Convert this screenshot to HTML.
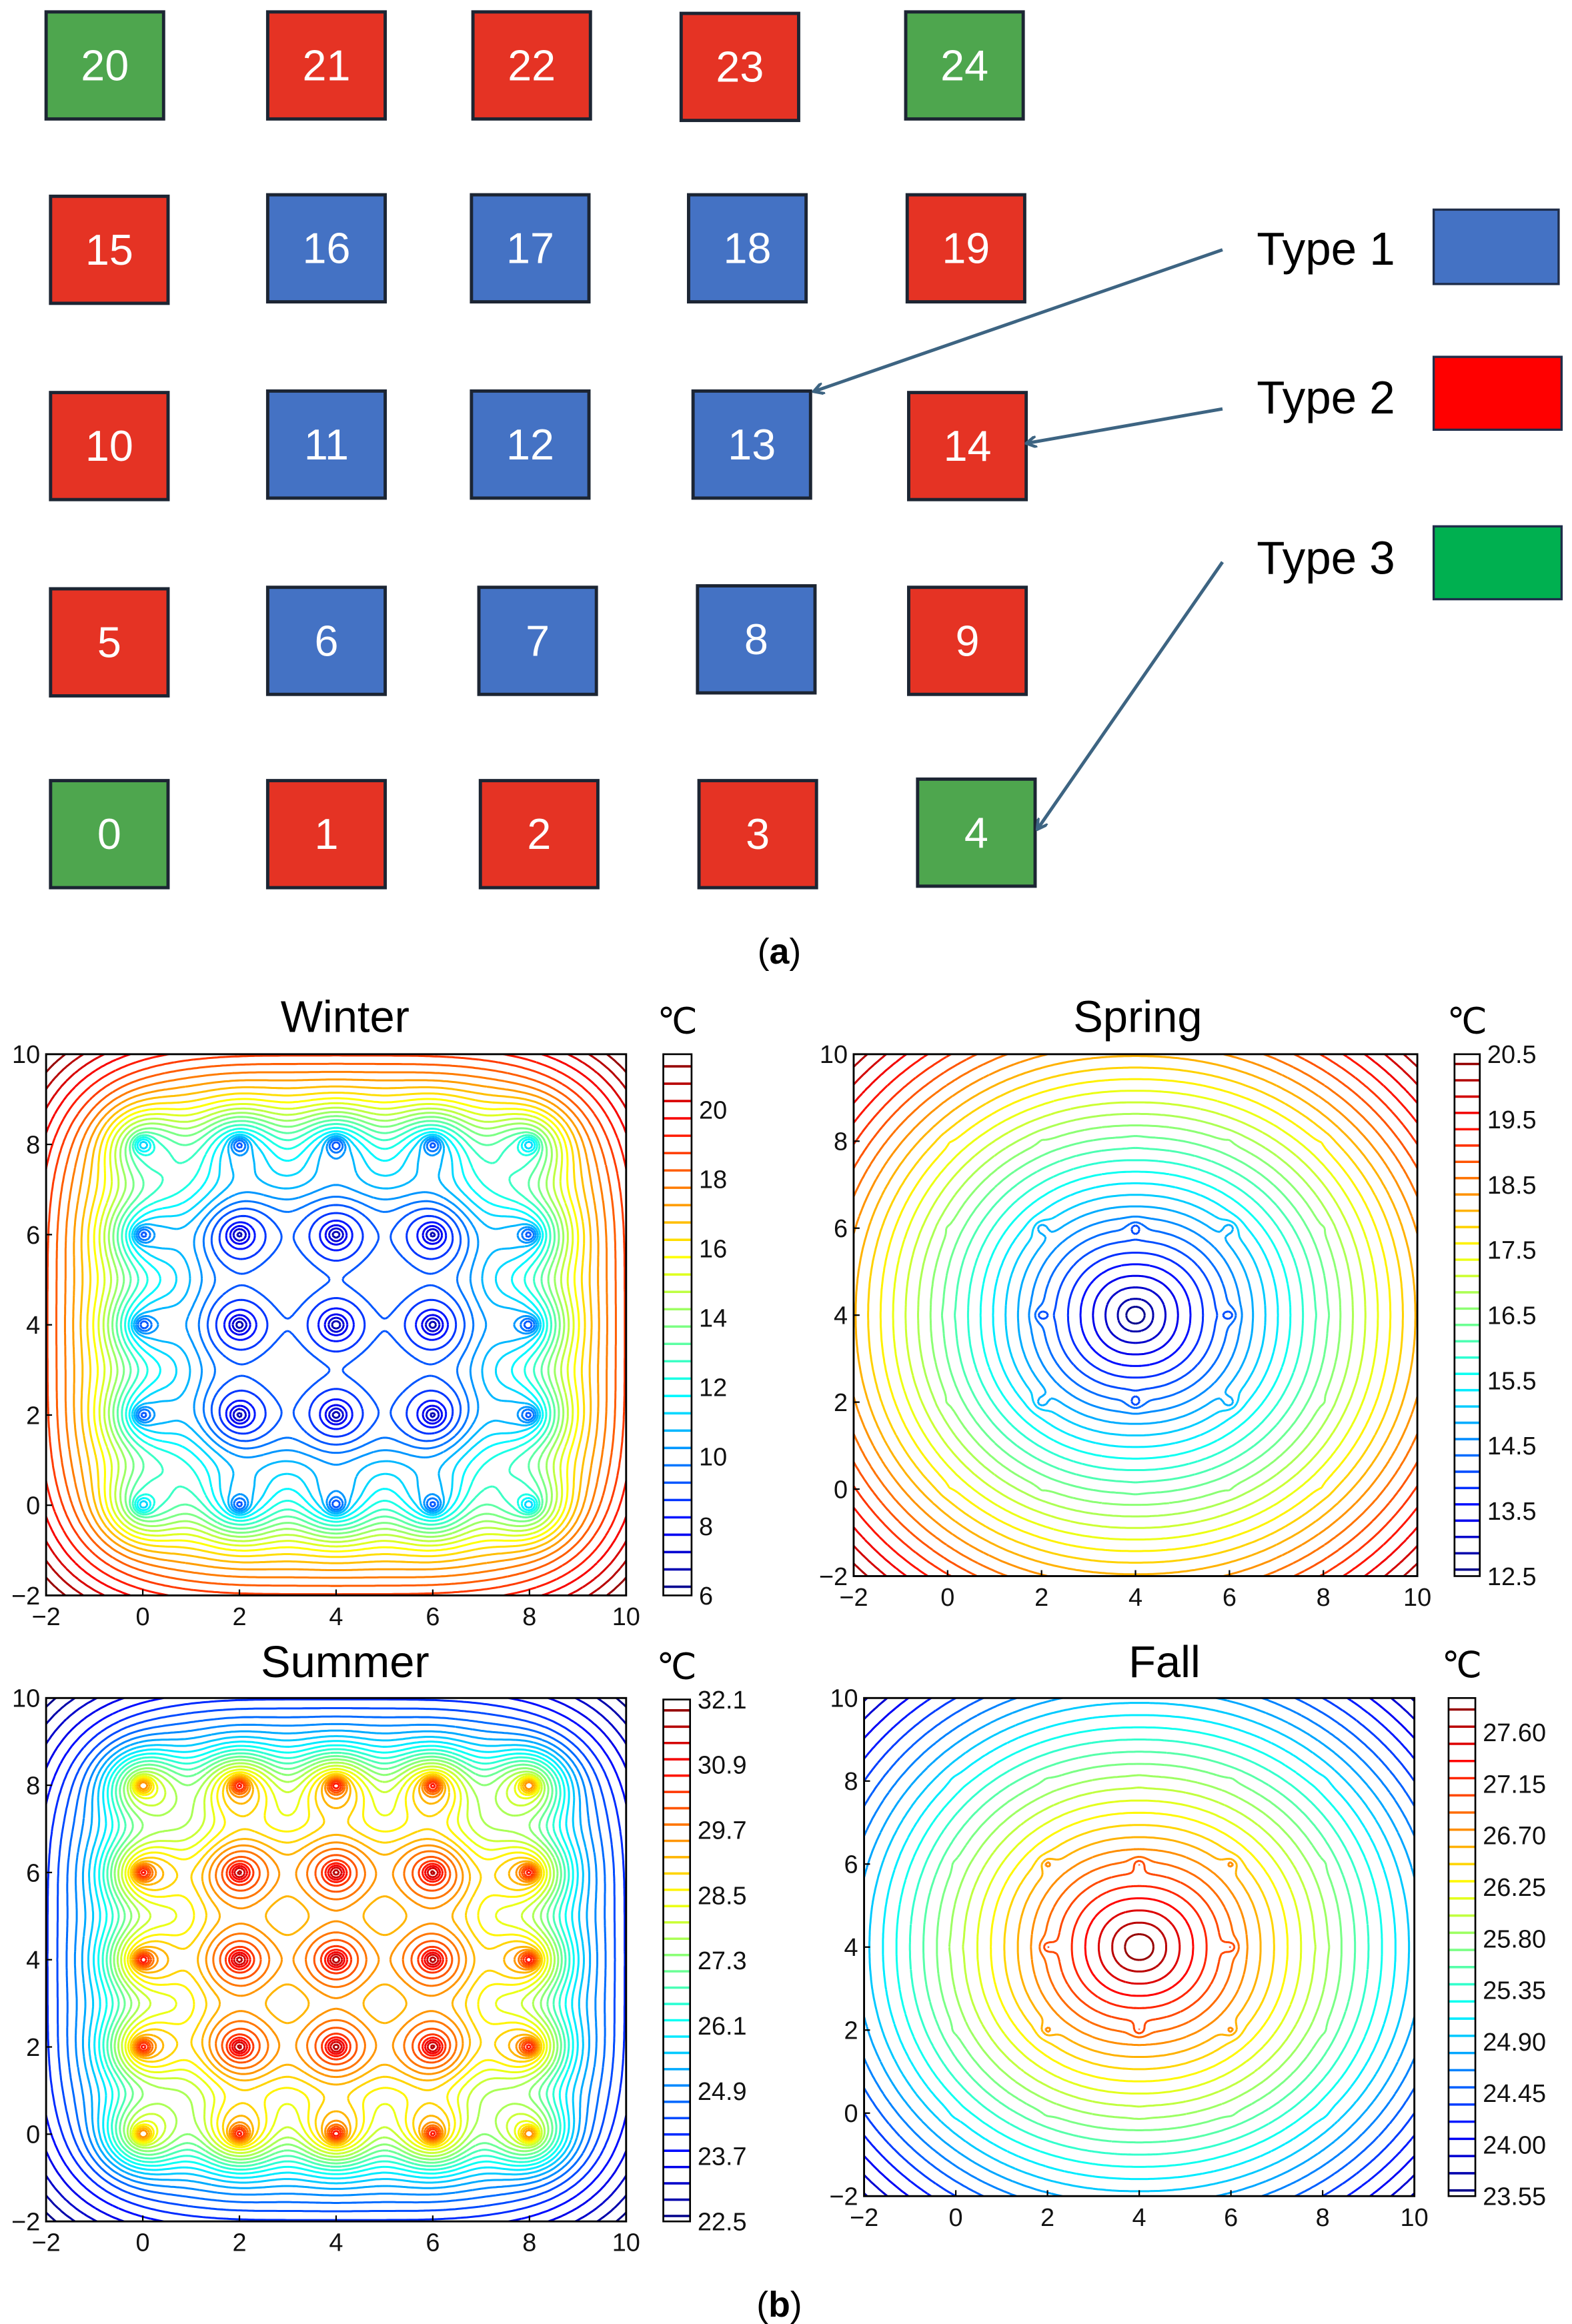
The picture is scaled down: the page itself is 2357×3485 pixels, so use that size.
<!DOCTYPE html>
<html><head><meta charset="utf-8"><title>Layout and seasonal contours</title>
<style>
html,body{margin:0;padding:0;background:#fff;}
svg{display:block;}
text{font-family:"Liberation Sans",sans-serif;}
.nar{font-family:"Liberation Sans Narrow","Liberation Sans",sans-serif;}
</style></head>
<body>
<svg id="root" xmlns="http://www.w3.org/2000/svg" width="2357" height="3485" viewBox="0 0 1057 1563" preserveAspectRatio="none">
<rect x="0" y="0" width="1057" height="1563" fill="#fff"/>
<g id="layout"></g>
<g>
  <text class="nar" x="845" y="178" font-size="31" fill="#000">Type 1</text>
  <rect x="964" y="141" width="84" height="50" fill="#4472C4" stroke="#1F2D4A" stroke-width="1.5"/>
  <text class="nar" x="845" y="278" font-size="31" fill="#000">Type 2</text>
  <rect x="964" y="240" width="86" height="49" fill="#FF0000" stroke="#1F2D4A" stroke-width="1.5"/>
  <text class="nar" x="845" y="386" font-size="31" fill="#000">Type 3</text>
  <rect x="964" y="354" width="86" height="49" fill="#00B050" stroke="#1F2D4A" stroke-width="1.5"/>
</g>
<defs>
  <marker id="ah" markerWidth="8" markerHeight="8" refX="6" refY="4" orient="auto" markerUnits="userSpaceOnUse">
    <path d="M0,0 L7,4 L0,8" fill="none" stroke="#3D6482" stroke-width="2"/>
  </marker>
</defs>
<g stroke="#3D6482" stroke-width="2.2" fill="none">
  <line x1="822" y1="168" x2="548" y2="263" marker-end="url(#ah)"/>
  <line x1="822" y1="275" x2="691" y2="298" marker-end="url(#ah)"/>
  <line x1="822" y1="378" x2="698" y2="557" marker-end="url(#ah)"/>
</g>
<text x="524" y="648" font-size="24" text-anchor="middle" font-family="Liberation Serif,serif">(<tspan font-weight="bold">a</tspan>)</text>
<text x="524" y="1558" font-size="24" text-anchor="middle" font-family="Liberation Serif,serif">(<tspan font-weight="bold">b</tspan>)</text>
<g id="plots"></g>
</svg>
<script>
// ---------- layout data ----------
const boxIds   = [20,21,22,23,24,15,16,17,18,19,10,11,12,13,14,5,6,7,8,9,0,1,2,3,4];
const boxTypes = [3,2,2,2,3, 2,1,1,1,2, 2,1,1,1,2, 2,1,1,1,2, 3,2,2,2,3];
const boxX = [31,180,318,458,609, 34,180,317,463,610, 34,180,317,466,611, 34,180,322,469,611, 34,180,323,470,617];
const boxY = [8,8,8,9,8, 132,131,131,131,131, 264,263,263,263,264, 396,395,395,394,395, 525,525,525,525,524];
const typeColors = {1:"#4472C4",2:"#E53324",3:"#4EA64E"};
const NS="http://www.w3.org/2000/svg";
function mk(tag,attrs,parent){const e=document.createElementNS(NS,tag);for(const k in attrs)e.setAttribute(k,attrs[k]);if(parent)parent.appendChild(e);return e;}
const lay=document.getElementById('layout');
for(let i=0;i<boxIds.length;i++){
  const g=mk('g',{},lay);
  
  
  const r=mk('rect',{x:boxX[i],y:boxY[i],width:79,height:72,fill:typeColors[boxTypes[i]],stroke:"#1C2533","stroke-width":2.2},g);
  
  
  const t=mk('text',{x:boxX[i]+39.5,y:boxY[i]+46,"font-size":29,"text-anchor":"middle",fill:"#fff",class:"nar"},g);
  
  
  t.textContent=boxIds[i];
}

// ---------- chart data ----------
const axisTicks = [-2,0,2,4,6,8,10];
const srcGrid = [0,2,4,6,8];
const srcType = [[3,2,2,2,3],[2,1,1,1,2],[2,1,1,1,2],[2,1,1,1,2],[3,2,2,2,3]];
const winterAmp = [0,3.6,4.6,4.6];
const summerAmp = [0,3.0,4.0,4.0];
const springAmp = [0,0.5,0.06,0.06];
const fallAmp   = [0,0.28,0.04,0.04];
const winterRange=[6,21.6], springRange=[12.5,20.5], summerRange=[22.5,32.1], fallRange=[23.55,27.9];
const winterLevels={start:6.25,step:0.5,end:21.6};
const springLevels={start:12.6,step:0.25,end:20.5};
const summerLevels={start:22.6,step:0.3,end:32.1};
const fallLevels={start:23.6,step:0.15,end:27.9};
const winterCbTicks=["6","8","10","12","14","16","18","20"];
const springCbTicks=["12.5","13.5","14.5","15.5","16.5","17.5","18.5","19.5","20.5"];
const summerCbTicks=["22.5","23.7","24.9","26.1","27.3","28.5","29.7","30.9","32.1"];
const fallCbTicks=["23.55","24.00","24.45","24.90","25.35","25.80","26.25","26.70","27.15","27.60"];

// ---------- fields ----------
function sp(z){return (z+Math.sqrt(z*z+0.004))/2;}
function dips(x,y,amp,s1,s2,w1){
  let s=0;
  for(let r=0;r<5;r++)for(let c=0;c<5;c++){
    const a=amp[srcType[r][c]]; if(!a)continue;
    const dx=x-srcGrid[c],dy=y-srcGrid[r],d2=dx*dx+dy*dy;
    s+=a*(w1*Math.exp(-d2/(2*s1*s1))+(1-w1)*Math.exp(-d2/(2*s2*s2)));
  }
  return s;
}
function boxShape(x,y){const u=Math.abs(x-4)/6,v=Math.abs(y-4)/6;return Math.pow(Math.pow(u,4)+Math.pow(v,4),0.25);}
function winterF(x,y){return 10+16*sp(boxShape(x,y)-0.45)-dips(x,y,winterAmp,0.55,0.13,0.6);}
function summerF(x,y){return 28.8-8.6*sp(boxShape(x,y)-0.45)+dips(x,y,summerAmp,0.55,0.13,0.6);}
function rad(x,y,p){return 6*Math.pow(Math.pow(Math.abs(x-4)/6,p)+Math.pow(Math.abs(y-4)/6,p),1/p);}
function springF(x,y){return 12.5+0.94*rad(x,y,2.15)-dips(x,y,springAmp,0.13,0.05,0.5);}
function fallF(x,y){return 27.95-0.51*rad(x,y,2.15)+dips(x,y,fallAmp,0.13,0.05,0.5);}

function jet(t){t=Math.max(0,Math.min(1,t));
  const cl=v=>Math.round(255*Math.max(0,Math.min(1,v)));
  return `rgb(${cl(1.5-Math.abs(4*t-3))},${cl(1.5-Math.abs(4*t-2))},${cl(1.5-Math.abs(4*t-1))})`;}

const panels=[
 {name:'winter',title:'Winter',f:winterF,range:winterRange,lv:winterLevels,ticks:winterCbTicks,L:31,T:709,R:421,B:1073,cbL:446,cbR:465,cbT:709,cbB:1073,tx:232,ty:694},
 {name:'spring',title:'Spring',f:springF,range:springRange,lv:springLevels,ticks:springCbTicks,L:574,T:709,R:953,B:1060,cbL:978,cbR:995,cbT:709,cbB:1060,tx:765,ty:694},
 {name:'summer',title:'Summer',f:summerF,range:summerRange,lv:summerLevels,ticks:summerCbTicks,L:31,T:1142,R:421,B:1494,cbL:446,cbR:464,cbT:1143,cbB:1494,tx:232,ty:1128},
 {name:'fall',title:'Fall',f:fallF,range:fallRange,lv:fallLevels,ticks:fallCbTicks,L:581,T:1142,R:951,B:1477,cbL:974,cbR:992,cbT:1142,cbB:1477,tx:783,ty:1128}
];
const plotsG=document.getElementById('plots');
const N=200;
panels.forEach((p,pi)=>{
  const g=mk('g',{},plotsG);
  
  
  const sx=x=>p.L+(x+2)/12*(p.R-p.L), sy=y=>p.B-(y+2)/12*(p.B-p.T);
  const [mn,mx]=p.range;
  const cy=v=>p.cbB-(v-mn)/(mx-mn)*(p.cbB-p.cbT);
  const V=[];for(let j=0;j<=N;j++){V[j]=new Float64Array(N+1);for(let i=0;i<=N;i++)V[j][i]=p.f(-2+12*i/N,-2+12*j/N);}
  const cp=mk('clipPath',{id:'clip'+pi},g);
  mk('rect',{x:p.L,y:p.T,width:p.R-p.L,height:p.B-p.T},cp);
  const cg=mk('g',{'clip-path':`url(#clip${pi})`,fill:'none','stroke-width':1.35,'stroke-linejoin':'round'},g);
  
  
  const levels=[];for(let L=p.lv.start;L<=p.lv.end+1e-9;L+=p.lv.step)levels.push(L);
  const cbG=mk('g',{},g);
  
  
  levels.forEach(L=>{
    const col=jet((L-mn)/(mx-mn));
    let d=[];
    for(let j=0;j<N;j++)for(let i=0;i<N;i++){
      const c=[V[j][i],V[j][i+1],V[j+1][i+1],V[j+1][i]];
      const xs=[i,i+1,i+1,i],ys=[j,j,j+1,j+1];
      const pts=[];
      for(let e=0;e<4;e++){const a=c[e],b=c[(e+1)%4];
        if((a-L)*(b-L)<0){const t=(L-a)/(b-a);
          const gx=xs[e]+t*(xs[(e+1)%4]-xs[e]),gy=ys[e]+t*(ys[(e+1)%4]-ys[e]);
          pts.push([sx(-2+12*gx/N),sy(-2+12*gy/N)]);}}
      for(let k=0;k+1<pts.length;k+=2)d.push(`M${pts[k][0].toFixed(1)} ${pts[k][1].toFixed(1)}L${pts[k+1][0].toFixed(1)} ${pts[k+1][1].toFixed(1)}`);
    }
    if(d.length){const path=mk('path',{d:d.join(''),stroke:col},cg);
      
      }
    const ln=mk('line',{x1:p.cbL,x2:p.cbR,y1:cy(L),y2:cy(L),stroke:col,'stroke-width':1.6},cbG);
    
    
  });
  const cbF=mk('rect',{x:p.cbL,y:p.cbT,width:p.cbR-p.cbL,height:p.cbB-p.cbT,fill:'none',stroke:'#000','stroke-width':1.2},cbG);
  
  
  p.ticks.forEach(s=>{const v=parseFloat(s);
    const t=mk('text',{x:p.cbR+5,y:cy(v)+6,'font-size':17,fill:'#111'},cbG);
    
    
    t.textContent=s;});
  const u=mk('text',{x:(p.cbL+p.cbR)/2,y:p.cbT-14,'font-size':24,'text-anchor':'middle',fill:'#000'},g);
  
  
  u.textContent='℃';
  const fr=mk('rect',{x:p.L,y:p.T,width:p.R-p.L,height:p.B-p.T,fill:'none',stroke:'#000','stroke-width':1.3},g);
  
  
  axisTicks.forEach(v=>{
    const tx=mk('text',{x:sx(v),y:p.B+20,'font-size':17,'text-anchor':'middle',fill:'#111'},g);
    
    
    tx.textContent=v<0?'\u2212'+(-v):v;
    const ty=mk('text',{x:p.L-4,y:sy(v)+6,'font-size':17,'text-anchor':'end',fill:'#111'},g);
    
    
    ty.textContent=v<0?'\u2212'+(-v):v;
    mk('line',{x1:sx(v),x2:sx(v),y1:p.B,y2:p.B-4,stroke:'#000','stroke-width':1},g);
    mk('line',{x1:p.L,x2:p.L+4,y1:sy(v),y2:sy(v),stroke:'#000','stroke-width':1},g);
  });
  const tt=mk('text',{x:p.tx,y:p.ty,'font-size':30,'text-anchor':'middle',fill:'#000'},g);
  
  
  tt.textContent=p.title;
});
</script>
</body></html>
